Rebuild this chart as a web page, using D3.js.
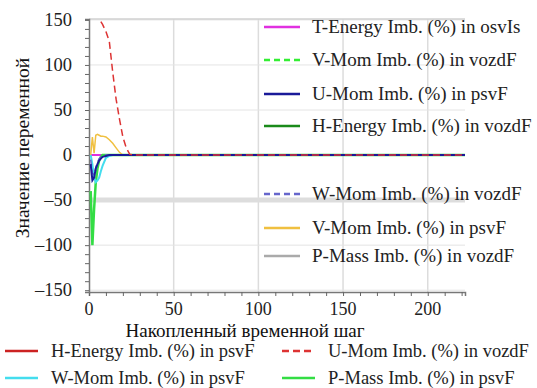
<!DOCTYPE html>
<html>
<head>
<meta charset="utf-8">
<script src="https://cdn.jsdelivr.net/npm/d3@7"></script>
<style>
  body { margin: 0; background: #fff; }
</style>
</head>
<body>
<div id="chart"></div>
<script>
/* Data */
var steps      = [1, 2, 3, 4, 5, 6, 7, 8, 10, 12, 14, 16, 18, 20, 22, 24, 26, 30, 222];
var uMomVozdF  = [null, null, null, null, null, null, 148, 145, 137, 126, 92, 62, 40, 20, 8, 1, 0, 0, 0];
var vMomPsvF   = [0, 20, 2, 22, 23, 22, 21, 21, 20, 17, 13, 8, 3, 0, 0, 0, 0, 0, 0];
var pMassPsvF  = [-40, -100, -60, -30, -15, -6, -2, 0, 0, 0, 0, 0, 0, 0, 0, 0, 0, 0, 0];
var wMomPsvF   = [0, -10, -25, -30, -28, -25, -18, -12, -3, -1, 0, 0, 0, 0, 0, 0, 0, 0, 0];
var uMomPsvF   = [-10, -28, -25, -15, -10, -6, -4, -2, -1, 0, 0, 0, 0, 0, 0, 0, 0, 0, 0];
var wMomVozdF  = [-5, -20, -22, -14, -8, -4, -2, -1, 0, 0, 0, 0, 0, 0, 0, 0, 0, 0, 0];
var zeroSeries = [0, 0, 0, 0, 0, 0, 0, 0, 0, 0, 0, 0, 0, 0, 0, 0, 0, 0, 0];
var bandValue  = -50;

var xTicks = [0, 50, 100, 150, 200];
var yTicks = [-150, -100, -50, 0, 50, 100, 150];

var series = [
    { name: "H-Energy Imb. (%) in psvF",  values: zeroSeries, color: "#cc2222", dash: null,  width: 2 },
    { name: "V-Mom Imb. (%) in vozdF",    values: zeroSeries, color: "#33ee33", dash: "6,4", width: 2 },
    { name: "H-Energy Imb. (%) in vozdF", values: zeroSeries, color: "#1a8a1a", dash: null,  width: 2 },
    { name: "T-Energy Imb. (%) in osvIs", values: zeroSeries, color: "#e030e0", dash: null,  width: 2 },
    { name: "P-Mass Imb. (%) in psvF",    values: pMassPsvF,  color: "#33dd44", dash: null,  width: 2.5 },
    { name: "V-Mom Imb. (%) in psvF",     values: vMomPsvF,   color: "#f0c040", dash: null,  width: 1.5 },
    { name: "W-Mom Imb. (%) in psvF",     values: wMomPsvF,   color: "#44ddee", dash: null,  width: 2 },
    { name: "W-Mom Imb. (%) in vozdF",    values: wMomVozdF,  color: "#6666cc", dash: "6,4", width: 1.5 },
    { name: "U-Mom Imb. (%) in psvF",     values: uMomPsvF,   color: "#1a1a99", dash: null,  width: 2 },
    { name: "U-Mom Imb. (%) in vozdF",    values: uMomVozdF,  color: "#dd3333", dash: "7,4", width: 1.5 }
];

var byName = {};
series.forEach(function(s) { byName[s.name] = s; });
byName["P-Mass Imb. (%) in vozdF"] = { color: "#aaaaaa", dash: null, width: 2 };

var innerLegend = ["T-Energy Imb. (%) in osvIs", "V-Mom Imb. (%) in vozdF", "U-Mom Imb. (%) in psvF",
                   "H-Energy Imb. (%) in vozdF", null, "W-Mom Imb. (%) in vozdF", "V-Mom Imb. (%) in psvF",
                   "P-Mass Imb. (%) in vozdF"];
var bottomLegend = ["H-Energy Imb. (%) in psvF", "U-Mom Imb. (%) in vozdF",
                    "W-Mom Imb. (%) in psvF", "P-Mass Imb. (%) in psvF"];

var W = 537, H = 388,
    fontFamily = "Liberation Serif";
var margin = { top: 19, left: 89, right: 72, bottom: 96 };

var svg = d3.select("#chart").append("svg")
    .attr("width", W)
    .attr("height", H);

var x = d3.scaleLinear().domain([0, 222]).range([margin.left, W - margin.right]);
var y = d3.scaleLinear().domain([-152, 151]).range([H - margin.bottom, margin.top]);

/* grid */
svg.append("g").selectAll("line").data(xTicks.slice(1)).enter().append("line")
    .attr("x1", function(d) { return x(d); }).attr("x2", function(d) { return x(d); })
    .attr("y1", y.range()[1]).attr("y2", y.range()[0])
    .attr("stroke", "#dcdcdc").attr("stroke-width", 1.5);
svg.append("g").selectAll("line").data(yTicks).enter().append("line")
    .attr("x1", x.range()[0]).attr("x2", x.range()[1])
    .attr("y1", function(d) { return y(d); }).attr("y2", function(d) { return y(d); })
    .attr("stroke", "#e4e4e4").attr("stroke-width", 1);
svg.append("line")
    .attr("x1", x.range()[0]).attr("x2", x.range()[1])
    .attr("y1", y.range()[1]).attr("y2", y.range()[1])
    .attr("stroke", "#d0d0d0").attr("stroke-width", 1.5);

/* light gray band */
svg.append("line")
    .attr("x1", x(0)).attr("x2", x(222))
    .attr("y1", y(bandValue)).attr("y2", y(bandValue))
    .attr("stroke", "#dddddd").attr("stroke-width", 5);

/* axes */
var xAxis = svg.append("g")
    .attr("transform", "translate(0," + y.range()[0] + ")")
    .call(d3.axisBottom(x).tickValues(d3.range(0, 221, 10)).tickSize(4).tickFormat(""));
xAxis.selectAll("text.lbl").data(xTicks).enter().append("text")
    .attr("class", "lbl")
    .attr("x", function(d) { return x(d); })
    .attr("y", 23)
    .attr("text-anchor", "middle")
    .attr("fill", "#222")
    .attr("font-family", fontFamily)
    .attr("font-size", 18)
    .text(function(d) { return d; });

var yAxis = svg.append("g")
    .attr("transform", "translate(" + x.range()[0] + ",0)")
    .call(d3.axisLeft(y).tickValues(d3.range(-150, 151, 10)).tickSize(4).tickFormat(""));
yAxis.selectAll("text.lbl").data(yTicks).enter().append("text")
    .attr("class", "lbl")
    .attr("x", -17)
    .attr("y", function(d) { return y(d) + 6; })
    .attr("text-anchor", "end")
    .attr("fill", "#222")
    .attr("font-family", fontFamily)
    .attr("font-size", 18.5)
    .text(function(d) { return d < 0 ? "\u2013" + (-d) : d; });

svg.selectAll(".domain").attr("stroke", "#777").attr("stroke-width", 1.5);
svg.selectAll(".tick line").attr("stroke", "#666");

/* lines */
var line = d3.line()
    .defined(function(d) { return d[1] !== null; })
    .x(function(d) { return x(d[0]); })
    .y(function(d) { return y(d[1]); });

series.forEach(function(s) {
    svg.append("path")
        .datum(steps.map(function(t, i) { return [t, s.values[i]]; }))
        .attr("fill", "none")
        .attr("stroke", s.color)
        .attr("stroke-width", s.width)
        .attr("stroke-dasharray", s.dash)
        .attr("d", line);
});

/* inner legend */
var rowsY = [27, 60, 94, 126, null, 194, 228, 256];
innerLegend.forEach(function(name, i) {
    if (!name) return;
    var s = byName[name];
    svg.append("line")
        .attr("x1", 264).attr("x2", 300)
        .attr("y1", rowsY[i]).attr("y2", rowsY[i])
        .attr("stroke", s.color).attr("stroke-width", 2.5)
        .attr("stroke-dasharray", s.dash);
    svg.append("text")
        .attr("x", 312).attr("y", rowsY[i] + 6)
        .attr("font-family", fontFamily)
        .attr("font-size", 19).attr("fill", "#222")
        .text(name);
});

/* bottom legend */
bottomLegend.forEach(function(name, i) {
    var s = byName[name];
    var cx = (i % 2) ? 282 : 5, cy = (i < 2) ? 351 : 378;
    svg.append("line")
        .attr("x1", cx).attr("x2", cx + 33)
        .attr("y1", cy).attr("y2", cy)
        .attr("stroke", s.color).attr("stroke-width", 2.5)
        .attr("stroke-dasharray", s.dash);
    svg.append("text")
        .attr("x", cx + 46).attr("y", cy + 6)
        .attr("font-family", fontFamily)
        .attr("font-size", 18.5).attr("fill", "#222")
        .text(name);
});

/* titles */
svg.append("text")
    .attr("x", 245).attr("y", 337)
    .attr("text-anchor", "middle")
    .attr("font-family", fontFamily)
    .attr("font-size", 19).attr("fill", "#111")
    .text("Накопленный временной шаг");
svg.append("text")
    .attr("transform", "translate(29,148) rotate(-90)")
    .attr("text-anchor", "middle")
    .attr("font-family", fontFamily)
    .attr("font-size", 19.5).attr("fill", "#111")
    .text("Значение переменной");
</script>
</body>
</html>
